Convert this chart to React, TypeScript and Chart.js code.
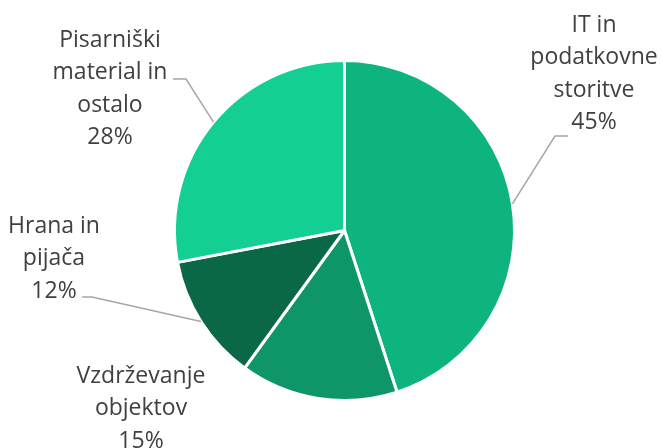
import React, { useEffect, useRef } from "react";
import { Chart, registerables } from "chart.js";

Chart.register(...registerables);

const categories = [
  "IT in podatkovne storitve",
  "Vzdrževanje objektov",
  "Hrana in pijača",
  "Pisarniški material in ostalo",
];
const shares = [45, 15, 12, 28];
const labelLines = [
  ["IT in", "podatkovne", "storitve", "45%"],
  ["Vzdrževanje", "objektov", "15%"],
  ["Hrana in", "pijača", "12%"],
  ["Pisarniški", "material in", "ostalo", "28%"],
];
const colors = ["#0DB47F", "#0F9668", "#0A6847", "#13CF93"];

// label layout: text center x, first baseline y, leader elbow & end (null = no leader)
const labelLayout = [
  { x: 594, y: 32, leader: [[555, 136], [568, 136]] },
  { x: 141, y: 383, leader: null },
  { x: 54, y: 233, leader: [[92, 297], [82, 297]] },
  { x: 110, y: 47, leader: [[186, 79], [173, 79]] },
];

const labelPlugin = {
  id: "outerLabels",
  afterDraw(chart: any) {
    const ctx = chart.ctx;
    const meta = chart.getDatasetMeta(0);
    ctx.save();
    meta.data.forEach((arc: any, i: number) => {
      const p = arc.getProps(["x", "y", "startAngle", "endAngle", "outerRadius"], true);
      const mid = (p.startAngle + p.endAngle) / 2;
      const sx = p.x + Math.cos(mid) * p.outerRadius;
      const sy = p.y + Math.sin(mid) * p.outerRadius;
      const lay = labelLayout[i];
      if (lay.leader) {
        ctx.beginPath();
        ctx.strokeStyle = "#A6A6A6";
        ctx.lineWidth = 1.5;
        ctx.moveTo(sx, sy);
        lay.leader.forEach((pt: number[]) => ctx.lineTo(pt[0], pt[1]));
        ctx.stroke();
      }
      ctx.fillStyle = "#404040";
      ctx.font = '23px "Open Sans"';
      ctx.textAlign = "center";
      ctx.textBaseline = "alphabetic";
      labelLines[i].forEach((t, j) => {
        ctx.fillText(t, lay.x, lay.y + j * 32.3);
      });
    });
    ctx.restore();
  },
};

export default function App() {
  const ref = useRef<HTMLCanvasElement | null>(null);
  useEffect(() => {
    document.body.style.margin = "0";
    const chart = new Chart(ref.current as HTMLCanvasElement, {
      type: "pie",
      data: {
        labels: categories,
        datasets: [
          {
            data: shares,
            backgroundColor: colors,
            borderColor: "#FFFFFF",
            borderWidth: 3,
          },
        ],
      },
      options: {
        responsive: false,
        animation: false,
        layout: { padding: { top: 59, bottom: 46, left: 173, right: 146 } },
        plugins: {
          legend: { display: false },
          tooltip: { enabled: false },
        },
      },
      plugins: [labelPlugin],
    });
    return () => chart.destroy();
  }, []);
  return (
    <div style={{ width: 662, height: 448 }}>
      <canvas ref={ref} width={662} height={448} />
    </div>
  );
}
